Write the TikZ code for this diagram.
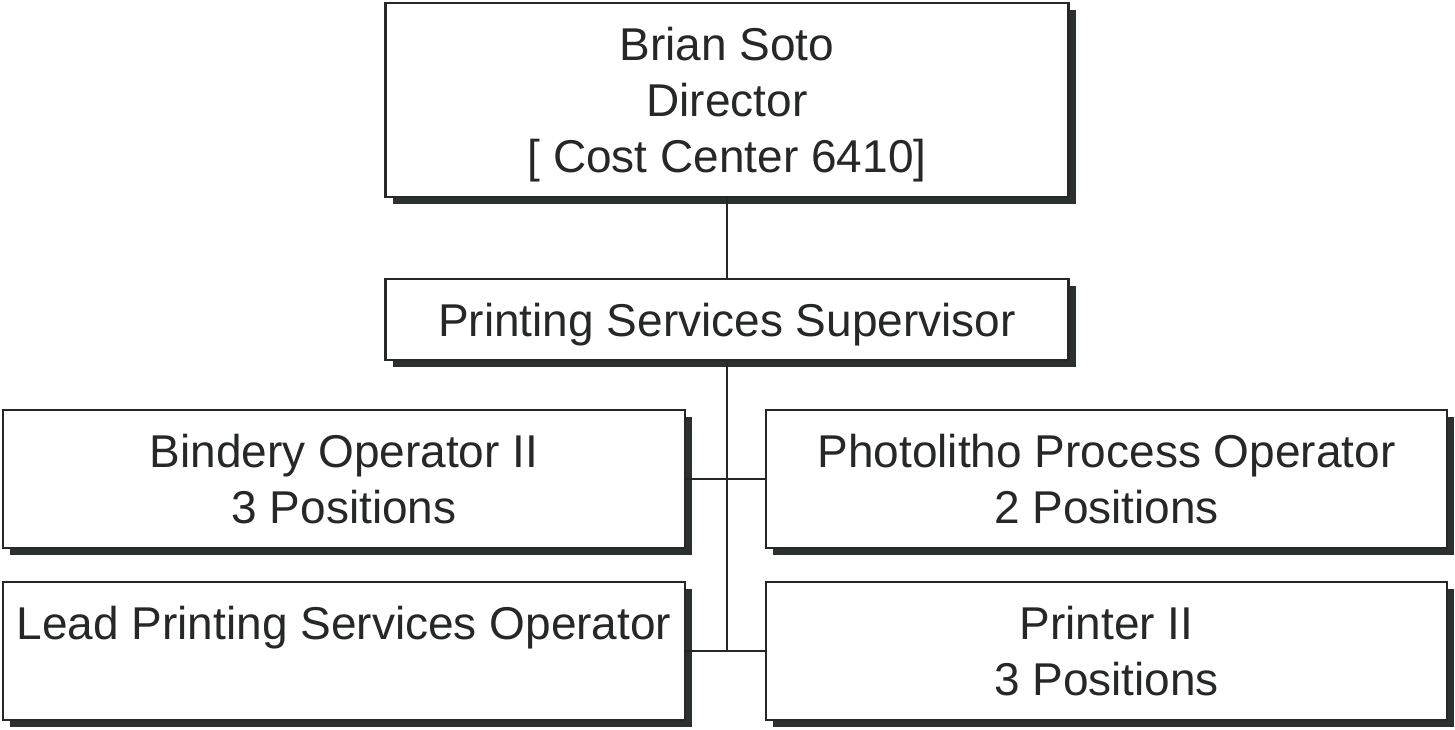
\documentclass[tikz,border=0pt]{standalone}
\usepackage{fontspec}
\setmainfont{Liberation Sans}
\usepackage{tikz}
\usetikzlibrary{positioning,shadows}
\usepackage{xcolor}
\definecolor{inkgray}{RGB}{38,40,40}
\definecolor{shadowgray}{RGB}{45,48,48}
\newcommand{\boxstrut}{\rule[-11.5pt]{0pt}{56pt}}

\tikzset{
  orgbox/.style={draw=inkgray,fill=white,line width=2.4pt,inner sep=0pt,
    align=center,text=inkgray,minimum width=683pt,
    font=\fontsize{46}{56}\selectfont,
    drop shadow={shadow xshift=7pt,shadow yshift=-7pt,fill=shadowgray,opacity=1}},
  orgline/.style={draw=inkgray,line width=2.4pt}
}

\begin{document}
\begin{tikzpicture}[x=1pt,y=1pt]
  \useasboundingbox (0,0) rectangle (1455,-729);

  % Boxes
  \node[orgbox,minimum height=194pt] (director) at (727,-100)
    {\boxstrut Brian Soto\\\boxstrut Director\\\boxstrut [ Cost Center 6410]};
  \node[orgbox,minimum height=81pt] (supervisor) at (727,-319.5)
    {\boxstrut Printing Services Supervisor};

  \node[orgbox,minimum height=138pt,minimum width=682pt] (bindery) at (344,-479)
    {\boxstrut Bindery Operator II\\\boxstrut 3 Positions};
  \node[orgbox,minimum height=138pt,minimum width=681pt] (photolitho) at (1106.5,-479)
    {\boxstrut Photolitho Process Operator\\\boxstrut 2 Positions};

  \node[orgbox,minimum height=138pt,minimum width=682pt] (lead) at (344,-651)
    {\boxstrut Lead Printing Services Operator\\\boxstrut};
  \node[orgbox,minimum height=138pt,minimum width=681pt] (printer) at (1106.5,-651)
    {\boxstrut Printer II\\\boxstrut 3 Positions};

  % Connectors
  \coordinate (trunkend) at (supervisor.south |- lead.east);
  \draw[orgline] (director.south) -- (supervisor.north);
  \draw[orgline] (supervisor.south) -- (trunkend);
  \draw[orgline] (bindery.east) -- (photolitho.west);
  \draw[orgline] (lead.east) -- (printer.west);
\end{tikzpicture}
\end{document}
